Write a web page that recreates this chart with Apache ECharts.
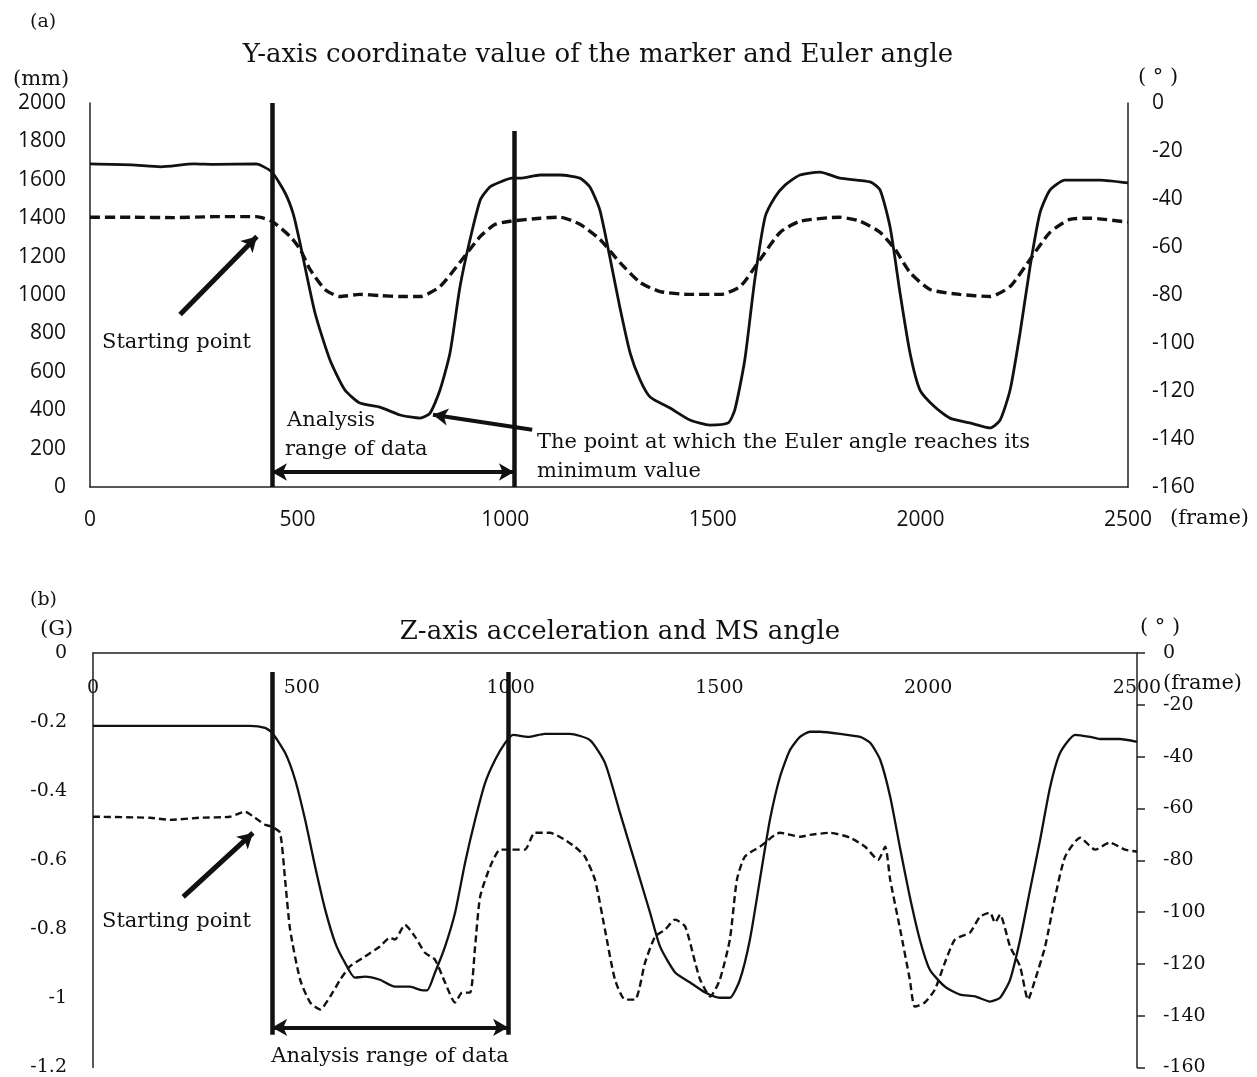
<!DOCTYPE html>
<html>
<head>
<meta charset="utf-8">
<script src="https://cdn.jsdelivr.net/npm/echarts@6/dist/echarts.min.js"></script>
<style>
  html, body { margin: 0; padding: 0; background: #fff; }
  #main { width: 1257px; height: 1077px; }
</style>
</head>
<body>
<div id="main"></div>
<script>
  // (a) Euler angle (deg, right axis) - solid
  var topSolid = [[0,-25.4],[100,-25.8],[170,-26.6],[250,-25.4],[300,-25.6],[400,-25.4],[438,-28.8],[470,-37.5],[490,-46.5],[506,-58.5],[542,-87.5],[578,-107.1],[614,-119.6],[650,-125.0],[698,-126.7],[747,-130.0],[795,-131.3],[819,-129.2],[843,-119.6],[867,-104.2],[891,-76.7],[915,-57.1],[940,-40.4],[963,-35.0],[988,-32.9],[1016,-31.3],[1036,-31.3],[1084,-30.0],[1132,-30.0],[1180,-31.3],[1204,-35.0],[1228,-44.6],[1252,-64.2],[1276,-85.0],[1301,-104.2],[1325,-115.4],[1349,-122.5],[1397,-127.1],[1445,-132.1],[1493,-134.2],[1537,-133.3],[1553,-127.9],[1577,-107.1],[1601,-73.8],[1626,-47.5],[1650,-39.2],[1674,-34.2],[1710,-30.0],[1758,-28.8],[1806,-31.3],[1879,-32.9],[1903,-36.3],[1927,-51.7],[1951,-79.2],[1975,-104.2],[1999,-119.6],[2035,-126.7],[2071,-131.3],[2119,-133.3],[2168,-135.4],[2192,-132.1],[2216,-119.6],[2240,-95.8],[2264,-68.3],[2288,-45.8],[2312,-36.3],[2348,-32.1],[2433,-32.1],[2500,-33.3]];
  // (a) Y coordinate of the marker (mm, left axis) - dashed
  var topDashed = [[0,1405],[100,1405],[200,1403],[300,1408],[400,1408],[438,1384],[482,1305],[506,1238],[530,1133],[566,1029],[602,992],[650,1003],[698,997],[747,992],[795,992],[843,1044],[891,1170],[940,1305],[976,1368],[1012,1384],[1084,1400],[1132,1405],[1180,1368],[1228,1290],[1276,1170],[1325,1065],[1373,1018],[1445,1003],[1518,1003],[1566,1044],[1614,1185],[1662,1326],[1710,1384],[1806,1405],[1855,1384],[1903,1326],[1939,1238],[1975,1117],[2023,1029],[2095,1003],[2168,992],[2216,1044],[2264,1185],[2312,1326],[2360,1394],[2409,1400],[2500,1379]];
  // (b) Z-axis acceleration (G, left axis) - solid
  var bottomSolid = [[0,-0.211],[200,-0.211],[376,-0.211],[412,-0.217],[429,-0.231],[460,-0.289],[484,-0.367],[508,-0.483],[532,-0.619],[556,-0.743],[580,-0.839],[603,-0.896],[627,-0.94],[651,-0.937],[687,-0.946],[723,-0.966],[759,-0.966],[783,-0.975],[800,-0.977],[819,-0.925],[843,-0.85],[867,-0.752],[891,-0.607],[915,-0.483],[939,-0.376],[963,-0.309],[987,-0.26],[1006,-0.237],[1042,-0.243],[1082,-0.234],[1142,-0.234],[1190,-0.252],[1226,-0.318],[1262,-0.463],[1298,-0.607],[1334,-0.752],[1358,-0.85],[1394,-0.925],[1430,-0.954],[1466,-0.983],[1501,-0.998],[1525,-0.998],[1549,-0.946],[1573,-0.83],[1597,-0.656],[1621,-0.483],[1645,-0.359],[1669,-0.281],[1693,-0.243],[1717,-0.228],[1741,-0.228],[1789,-0.234],[1837,-0.243],[1861,-0.26],[1885,-0.309],[1909,-0.416],[1932,-0.561],[1956,-0.706],[1980,-0.83],[2004,-0.917],[2040,-0.966],[2076,-0.989],[2112,-0.994],[2148,-1.009],[2172,-0.998],[2196,-0.946],[2220,-0.83],[2244,-0.685],[2268,-0.541],[2292,-0.388],[2316,-0.289],[2352,-0.237],[2388,-0.243],[2411,-0.249],[2459,-0.249],[2500,-0.257]];
  // (b) MS angle (deg, right axis) - dashed
  var bottomDashed = [[0,-63.2],[137,-63.6],[184,-64.4],[256,-63.6],[328,-63.2],[364,-61.3],[388,-63.6],[412,-66.3],[429,-67.1],[448,-69.4],[460,-87.5],[472,-106.8],[496,-126.1],[520,-134.9],[544,-137.6],[568,-132.6],[592,-126.1],[615,-121],[651,-117.2],[687,-113.3],[711,-109.9],[723,-110.6],[747,-104.9],[771,-109.5],[795,-115.7],[819,-118.4],[843,-127.2],[867,-134.9],[884,-131.1],[903,-131.1],[915,-113.3],[927,-94.1],[951,-82.5],[975,-75.9],[999,-75.9],[1034,-75.9],[1058,-69.4],[1094,-69.4],[1130,-72.1],[1154,-74.8],[1178,-78.6],[1202,-87.5],[1226,-106.8],[1250,-126.1],[1274,-133.8],[1298,-133.8],[1322,-119.5],[1346,-109.5],[1370,-106.8],[1394,-102.9],[1418,-105.6],[1442,-119.5],[1454,-126.1],[1478,-132.6],[1501,-126.1],[1525,-110.6],[1542,-87.5],[1561,-78.6],[1597,-74.8],[1645,-69.4],[1693,-70.9],[1717,-70.2],[1765,-69.4],[1813,-71.3],[1849,-74.8],[1880,-79.8],[1897,-74.8],[1909,-87.5],[1933,-106.8],[1956,-126.1],[1968,-136.5],[1992,-134.9],[2016,-129.9],[2040,-119.5],[2064,-110.6],[2100,-107.9],[2124,-101.8],[2148,-100.2],[2160,-104.1],[2172,-101],[2196,-113.3],[2220,-121],[2239,-133.8],[2256,-126.1],[2280,-113.3],[2304,-94.1],[2328,-78.6],[2364,-71.3],[2400,-75.9],[2435,-73.2],[2471,-75.9],[2500,-76.7]];

  // analysis range markers (frame) and annotation arrows (data coords)
  var topRange = [438, 1021];
  var topRangeTop = [2000, 1854];
  var topRangeArrowY = 78;
  var topStartArrow = [[217, 898], [402, 1305]];
  var topMinArrow = [[1065, 298], [826, 376]];
  var bottomRange = [429, 994];
  var bottomRangeSpan = [-0.055, -1.105];
  var bottomRangeArrowY = -1.084;
  var bottomStartArrow = [[216, -0.706], [383, -0.521]];

  var SANS = '"Open Sans"';
  var SERIF = '"DejaVu Serif"';
  var INK = '#111';

  function vline(x, y0, y1) {
    return [{coord: [x, y0], symbol: 'none'}, {coord: [x, y1], symbol: 'none'}];
  }
  function arrow(a, b, both, w) {
    return [
      {coord: a, symbol: both ? 'arrow' : 'none', symbolSize: [13, 15], lineStyle: {width: w}},
      {coord: b, symbol: 'arrow', symbolSize: [13, 15]}
    ];
  }
  function txt(x, y, s, font, align) {
    return {
      type: 'text', x: x, y: y, z: 100,
      style: {text: s, font: font, fill: INK, textAlign: align || 'left', textVerticalAlign: 'middle'}
    };
  }
  function plain(v) { return String(Math.round(v * 10) / 10); }

  var chart = echarts.init(document.getElementById('main'));

  var axisLine = {show: true, lineStyle: {color: '#222', width: 1.5}};

  var option = {
    backgroundColor: '#fff',
    animation: false,
    grid: [
      {left: 90, right: 129, top: 103, height: 384},
      {left: 93, right: 120, top: 653, height: 415}
    ],
    xAxis: [
      {
        gridIndex: 0, type: 'value', min: 0, max: 2500, interval: 500,
        axisLine: axisLine, axisTick: {show: false}, splitLine: {show: false},
        axisLabel: {margin: 23, color: INK, fontFamily: SANS, fontSize: 21, formatter: plain}
      },
      {
        gridIndex: 1, type: 'value', position: 'top', min: 0, max: 2500, interval: 500,
        axisLine: axisLine, axisTick: {show: false}, splitLine: {show: false},
        axisLabel: {inside: true, margin: 26, color: INK, fontFamily: SERIF, fontSize: 19, formatter: plain}
      }
    ],
    yAxis: [
      {
        gridIndex: 0, type: 'value', min: 0, max: 2000, interval: 200,
        axisLine: axisLine, axisTick: {show: false}, splitLine: {show: false},
        axisLabel: {margin: 24, color: INK, fontFamily: SANS, fontSize: 21, formatter: plain}
      },
      {
        gridIndex: 0, type: 'value', position: 'right', min: -160, max: 0, interval: 20,
        axisLine: axisLine, axisTick: {show: false}, splitLine: {show: false},
        axisLabel: {margin: 24, color: INK, fontFamily: SANS, fontSize: 21, formatter: plain}
      },
      {
        gridIndex: 1, type: 'value', min: -1.2, max: 0, interval: 0.2,
        axisLine: axisLine, axisTick: {show: false}, splitLine: {show: false},
        axisLabel: {margin: 26, color: INK, fontFamily: SERIF, fontSize: 19, formatter: plain}
      },
      {
        gridIndex: 1, type: 'value', position: 'right', min: -160, max: 0, interval: 20,
        axisLine: axisLine, axisTick: {show: true, length: 8, lineStyle: {color: '#222', width: 1.5}},
        splitLine: {show: false},
        axisLabel: {margin: 26, color: INK, fontFamily: SERIF, fontSize: 19, formatter: plain}
      }
    ],
    series: [
      {
        name: 'Y coordinate', type: 'line', xAxisIndex: 0, yAxisIndex: 0,
        data: topDashed, showSymbol: false, smooth: 0.2,
        lineStyle: {color: INK, width: 3.4, type: [10, 5]},
        markLine: {
          silent: true, label: {show: false},
          lineStyle: {color: INK, type: 'solid', width: 4.5},
          data: [
            vline(topRange[0], 0, topRangeTop[0]),
            vline(topRange[1], 0, topRangeTop[1]),
            arrow([topRange[0], topRangeArrowY], [topRange[1], topRangeArrowY], true, 4),
            arrow(topStartArrow[0], topStartArrow[1], false, 5),
            arrow(topMinArrow[0], topMinArrow[1], false, 4)
          ]
        }
      },
      {
        name: 'Euler angle', type: 'line', xAxisIndex: 0, yAxisIndex: 1,
        data: topSolid, showSymbol: false, smooth: 0.2,
        lineStyle: {color: INK, width: 2.8}
      },
      {
        name: 'Z-axis acceleration', type: 'line', xAxisIndex: 1, yAxisIndex: 2,
        data: bottomSolid, showSymbol: false, smooth: 0.2,
        lineStyle: {color: INK, width: 2.3},
        markLine: {
          silent: true, label: {show: false},
          lineStyle: {color: INK, type: 'solid', width: 4.5},
          data: [
            vline(bottomRange[0], bottomRangeSpan[0], bottomRangeSpan[1]),
            vline(bottomRange[1], bottomRangeSpan[0], bottomRangeSpan[1]),
            arrow([bottomRange[0], bottomRangeArrowY], [bottomRange[1], bottomRangeArrowY], true, 4),
            arrow(bottomStartArrow[0], bottomStartArrow[1], false, 5)
          ]
        }
      },
      {
        name: 'MS angle', type: 'line', xAxisIndex: 1, yAxisIndex: 3,
        data: bottomDashed, showSymbol: false, smooth: 0.2,
        lineStyle: {color: INK, width: 2.4, type: [7, 4]}
      }
    ],
    graphic: [
      txt(30, 22, '(a)', '19px ' + SERIF),
      txt(598, 55, 'Y-axis coordinate value of the marker and Euler angle', '26px ' + SERIF, 'center'),
      txt(13, 80, '(mm)', '21px ' + SERIF),
      txt(1158, 78, '( ° )', '21px ' + SERIF, 'center'),
      txt(1170, 519, '(frame)', '21px ' + SERIF),
      txt(102, 343, 'Starting point', '21px ' + SERIF),
      txt(287, 421, 'Analysis', '21px ' + SERIF),
      txt(285, 450, 'range of data', '21px ' + SERIF),
      txt(537, 443, 'The point at which the Euler angle reaches its', '21px ' + SERIF),
      txt(537, 472, 'minimum value', '21px ' + SERIF),
      txt(30, 600, '(b)', '19px ' + SERIF),
      txt(620, 632, 'Z-axis acceleration and MS angle', '26px ' + SERIF, 'center'),
      txt(40, 630, '(G)', '21px ' + SERIF),
      txt(1160, 628, '( ° )', '21px ' + SERIF, 'center'),
      txt(1163, 684, '(frame)', '21px ' + SERIF),
      txt(102, 922, 'Starting point', '21px ' + SERIF),
      txt(390, 1057, 'Analysis range of data', '21px ' + SERIF, 'center')
    ]
  };

  chart.setOption(option);
</script>
</body>
</html>
